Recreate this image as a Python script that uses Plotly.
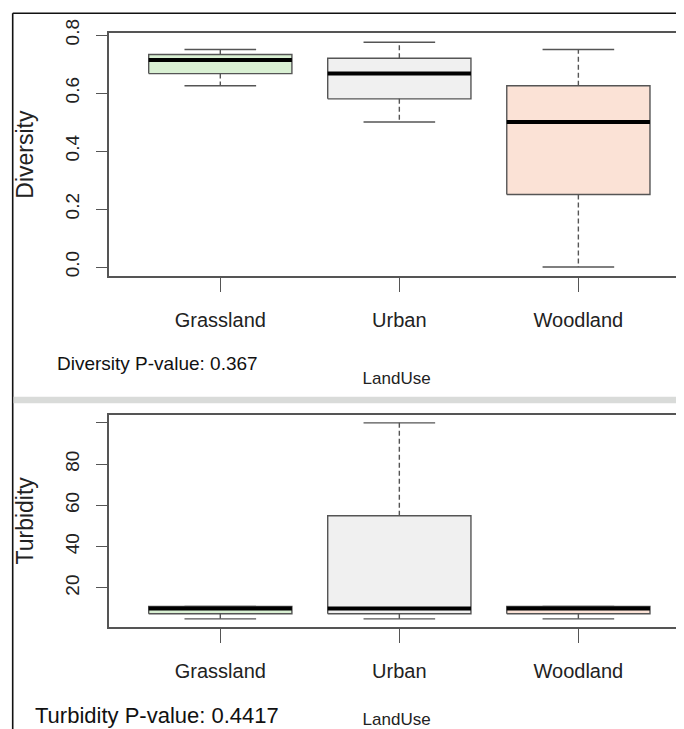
import plotly.graph_objects as go

# ---------------- data ----------------
categories = ["Grassland", "Urban", "Woodland"]

# Diversity by land use (five-number summaries)
div_lower = [0.625, 0.50, 0.00]
div_q1 = [0.667, 0.58, 0.25]
div_median = [0.714, 0.667, 0.50]
div_q3 = [0.733, 0.72, 0.625]
div_upper = [0.75, 0.775, 0.75]

# Turbidity by land use
tur_lower = [5, 5, 5]
tur_q1 = [7.5, 7.5, 7.5]
tur_median = [10, 10, 10]
tur_q3 = [11, 55, 11]
tur_upper = [11, 100, 11]

div_tickvals = [0.0, 0.2, 0.4, 0.6, 0.8]
div_ticktext = ["0.0", "0.2", "0.4", "0.6", "0.8"]
tur_tickvals = [20, 40, 60, 80, 100]
tur_ticktext = ["20", "40", "60", "80", ""]

div_pvalue_text = "Diversity P-value: 0.367"
tur_pvalue_text = "Turbidity P-value: 0.4417"

# ---------------- style ----------------
# the page body has an 8px margin, so the figure is sized to fill the rest
OFF = 8
W, H = 684 - OFF, 729 - OFF
fill_colors = ["#d9f0d3", "#f0f0f0", "#fbe2d6"]
LINE = "#555555"
BOX_HALF = 0.4
CAP_HALF = 0.2
SANS = "Liberation Sans, Arial, sans-serif"
TICK_FONT = dict(family=SANS, size=20, color="#222222")
YTICK_FONT = dict(family=SANS, size=19, color="#222222")


def fx(p):
    return (p - OFF) / W


def fy(p):
    return 1 - (p - OFF) / H


fig = go.Figure()


def add_panel(xa, ya, lower, q1, med, q3, upper):
    for i, cat in enumerate(categories):
        pos = i + 1
        # box
        fig.add_trace(go.Scatter(
            x=[pos - BOX_HALF, pos + BOX_HALF, pos + BOX_HALF, pos - BOX_HALF, pos - BOX_HALF],
            y=[q1[i], q1[i], q3[i], q3[i], q1[i]],
            mode="lines", fill="toself", fillcolor=fill_colors[i],
            line=dict(color=LINE, width=1.4), xaxis=xa, yaxis=ya,
            showlegend=False, hoverinfo="skip"))
        # whiskers (dashed)
        fig.add_trace(go.Scatter(
            x=[pos, pos, None, pos, pos],
            y=[q3[i], upper[i], None, q1[i], lower[i]],
            mode="lines", line=dict(color=LINE, width=1.4, dash="5px,3px"),
            xaxis=xa, yaxis=ya, showlegend=False, hoverinfo="skip"))
        # staples
        fig.add_trace(go.Scatter(
            x=[pos - CAP_HALF, pos + CAP_HALF, None, pos - CAP_HALF, pos + CAP_HALF],
            y=[upper[i], upper[i], None, lower[i], lower[i]],
            mode="lines", line=dict(color=LINE, width=1.4),
            xaxis=xa, yaxis=ya, showlegend=False, hoverinfo="skip"))
        # median
        fig.add_trace(go.Scatter(
            x=[pos - BOX_HALF, pos + BOX_HALF],
            y=[med[i], med[i]],
            mode="lines", line=dict(color="#000000", width=4),
            xaxis=xa, yaxis=ya, showlegend=False, hoverinfo="skip"))


add_panel("x", "y", div_lower, div_q1, div_median, div_q3, div_upper)
add_panel("x2", "y2", tur_lower, tur_q1, tur_median, tur_q3, tur_upper)

x_common = dict(
    range=[0.38, 3.59], domain=[fx(109.3), 1.0],
    tickmode="array", tickvals=[1, 2, 3], ticktext=categories,
    ticks="outside", ticklen=14, tickwidth=1.4, tickcolor=LINE,
    showline=True, mirror=True, linecolor=LINE, linewidth=1.6,
    showgrid=False, zeroline=False, tickfont=TICK_FONT,
    ticklabelstandoff=11, automargin=False, fixedrange=True,
)
y_common = dict(
    ticks="outside", ticklen=12, tickwidth=1.4, tickcolor=LINE,
    showline=True, linecolor=LINE, linewidth=1.6,
    showgrid=False, zeroline=False, tickfont=YTICK_FONT, tickangle=-90,
    ticklabelstandoff=9, automargin=False, fixedrange=True,
)
xtitle_font = dict(family=SANS, size=17, color="#222222")
ytitle_font = dict(family=SANS, size=23, color="#222222")

fig.update_layout(
    width=W, height=H,
    margin=dict(l=0, r=0, t=0, b=0),
    paper_bgcolor="white", plot_bgcolor="white",
    showlegend=False,
    xaxis=dict(anchor="y", **x_common,
               title=dict(text="LandUse", standoff=42, font=xtitle_font)),
    yaxis=dict(anchor="x", domain=[fy(276), fy(33.3)], range=[-0.031, 0.806],
               tickmode="array", tickvals=div_tickvals, ticktext=div_ticktext,
               title=dict(text="Diversity", standoff=22, font=ytitle_font),
               **y_common),
    xaxis2=dict(anchor="y2", **x_common,
                title=dict(text="LandUse", standoff=42, font=xtitle_font)),
    yaxis2=dict(anchor="x2", domain=[fy(626.7), fy(415)], range=[1.2, 103.8],
                tickmode="array", tickvals=tur_tickvals, ticktext=tur_ticktext,
                title=dict(text="Turbidity", standoff=22, font=ytitle_font),
                **y_common),
    shapes=[
        # outer frame (left and top)
        dict(type="line", xref="paper", yref="paper", x0=fx(12.7), x1=fx(12.7),
             y0=0, y1=fy(13.3), line=dict(color="#111111", width=1.6)),
        dict(type="line", xref="paper", yref="paper", x0=fx(12.7), x1=1,
             y0=fy(13.3), y1=fy(13.3), line=dict(color="#111111", width=1.6)),
        # grey separator band
        dict(type="rect", xref="paper", yref="paper", x0=fx(13.6), x1=1,
             y0=fy(403.3), y1=fy(396.7), fillcolor="#d9dbd9", line=dict(width=0)),
    ],
    annotations=[
        dict(text=div_pvalue_text, xref="paper", yref="paper", x=fx(55), y=fy(363),
             xanchor="left", yanchor="middle", showarrow=False,
             font=dict(family=SANS, size=19, color="#111111")),
        dict(text=tur_pvalue_text, xref="paper", yref="paper", x=fx(33), y=fy(715),
             xanchor="left", yanchor="middle", showarrow=False,
             font=dict(family=SANS, size=22, color="#111111")),
    ],
)

fig.write_html("out.html")
